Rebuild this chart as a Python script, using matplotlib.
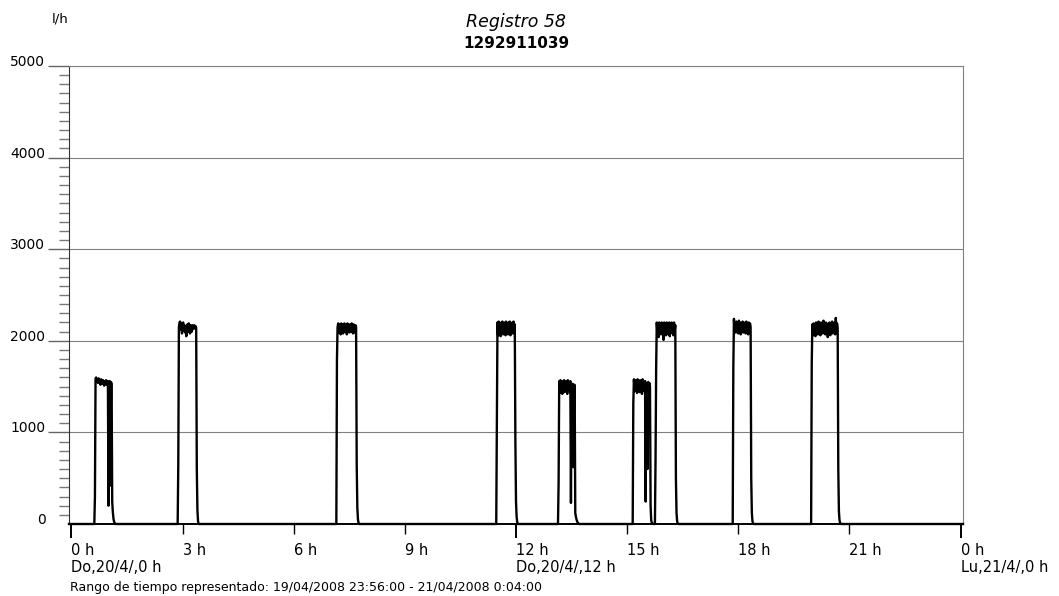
import numpy as np
import matplotlib.pyplot as plt
from matplotlib.ticker import MultipleLocator

plt.rcParams['font.family'] = 'DejaVu Sans'

# axis ticks
hour_ticks = [0, 3, 6, 9, 12, 15, 18, 21, 24]
hour_labels = ['0 h\nDo,20/4/,0 h', '3 h', '6 h', '9 h', '12 h\nDo,20/4/,12 h',
               '15 h', '18 h', '21 h', '0 h\nLu,21/4/,0 h']
day_ticks = [0, 12, 24]
flow_ticks = [0, 1000, 2000, 3000, 4000, 5000]

# minute samples, from 19/04 23:56 to 21/04 0:04
t_first, t_last = -4, 1444

# caudal (l/h) per minute for each pump cycle, zero in between
pulse_starts = [38, 173, 430, 689, 789, 910, 946, 1072, 1199]
pulse_1 = [300, 1590, 1600, 1560, 1580, 1540, 1590, 1550, 1570, 1520, 1580,
           1560, 1530, 1570, 1550, 1510, 1560, 1540, 1570, 1520, 1550, 1560,
           200, 1540, 1560, 420, 1550, 1530, 240, 130, 60, 25, 10]
pulse_2 = [650, 2150, 2200, 2210, 2120, 2190, 2080, 2180, 2200, 2110, 2170,
           2090, 2160, 2050, 2170, 2180, 2100, 2190, 2160, 2080, 2170,
           2150, 2100, 2170, 2160, 2130, 2170, 2150, 2160, 2140,
           600, 150, 30]
pulse_3 = [1800, 2150, 2190, 2090, 2180, 2160, 2070, 2190, 2120, 2180, 2080,
           2170, 2190, 2100, 2180, 2150, 2070, 2190, 2130, 2180, 2090,
           2170, 2180, 2100, 2190, 2150, 2080, 2180, 2160, 2090, 2170,
           2150, 650, 180, 50, 10]
pulse_4 = [1200, 2200, 2060, 2210, 2100, 2190, 2050, 2200, 2120, 2210, 2070,
           2190, 2100, 2200, 2060, 2210, 2110, 2190, 2070, 2200, 2090,
           2210, 2060, 2190, 2110, 2200, 2080, 2210, 2100, 2180,
           900, 250, 80, 20]
pulse_5 = [450, 1560, 1430, 1570, 1480, 1550, 1420, 1560, 1500, 1570, 1440,
           1550, 1490, 1560, 1420, 1570, 1470, 1540, 1450, 1560,
           230, 1520, 1480, 1530, 620, 1500, 1520, 120, 80, 50, 30, 15, 5]
pulse_6 = [1320, 1580, 1450, 1570, 1500, 1560, 1430, 1580, 1480, 1550, 1440,
           1570, 1500, 1560, 1420, 1580, 1470, 1550, 1450, 1560,
           245, 1540, 1480, 600, 1550, 1470, 1540, 1500, 200, 40, 15, 5]
pulse_7 = [700, 1700, 2200, 2080, 2190, 2040, 2200, 2110, 2180, 2070, 2200,
           2090, 2190, 2010, 2200, 2100, 2180, 2060, 2200, 2120, 2190, 2070,
           2200, 2050, 2180, 2100, 2200, 2080, 2190, 2060, 2200, 2110, 2170,
           500, 120, 30, 5]
pulse_8 = [1700, 2240, 2100, 2200, 2090, 2210, 2130, 2190, 2080, 2220, 2110,
           2200, 2070, 2190, 2120, 2210, 2090, 2180, 2100, 2200, 2080,
           2210, 2130, 2190, 2070, 2200, 2110, 2190, 2150,
           500, 120, 30, 5]
pulse_9 = [1750, 2180, 2060, 2190, 2100, 2170, 2050, 2200, 2120, 2190, 2070,
           2210, 2100, 2180, 2060, 2200, 2130, 2190, 2080, 2220, 2110,
           2190, 2070, 2200, 2090, 2180, 2040, 2190, 2110, 2200, 2060,
           2180, 2100, 2210, 2080, 2190, 2120, 2200, 2070, 2250, 2100,
           2190, 2140, 600, 140, 40, 10]
pulses = [pulse_1, pulse_2, pulse_3, pulse_4, pulse_5, pulse_6, pulse_7, pulse_8, pulse_9]

minutes = np.arange(t_first, t_last + 1)
flow = np.zeros(len(minutes))
for start, vals in zip(pulse_starts, pulses):
    i = start - t_first
    flow[i:i + len(vals)] = vals

fig = plt.figure(figsize=(10.59, 5.96), dpi=100)
ax = fig.add_axes([69 / 1059, 1 - 524 / 596, 894 / 1059, 458 / 596])

ax.plot(minutes / 60, flow, color='black', lw=1.7, clip_on=False, zorder=3)

ax.set_xlim(t_first / 60, t_last / 60)
ax.set_ylim(0, 5000)

# y axis: long major ticks, minor every 100 l/h
ax.set_yticks(flow_ticks)
ax.yaxis.set_minor_locator(MultipleLocator(100))
ax.tick_params(axis='y', which='major', length=15, width=1, color='#666666',
               pad=2, labelsize=10)
ax.tick_params(axis='y', which='minor', length=7, width=1, color='#777777')
ax.yaxis.get_major_ticks()[0].tick1line.set_visible(False)
for lab in ax.get_yticklabels():
    lab.set_verticalalignment('baseline')
ax.grid(axis='y', which='major', color='#808080', lw=0.8)

# x axis: hours, day marks in black
ax.set_xticks(hour_ticks, hour_labels)
ax.tick_params(axis='x', direction='out', length=10, width=1.4, color='black',
               pad=3.5, labelsize=10.5)
for h, tick in zip(hour_ticks, ax.xaxis.get_major_ticks()):
    tick.label1.set_horizontalalignment('left')
    if h not in day_ticks:
        tick.tick1line.set_color('#808080')
        tick.tick1line.set_markersize(7)
        tick.tick1line.set_markeredgewidth(1)

for side in ['top', 'right']:
    ax.spines[side].set_color('#808080')
    ax.spines[side].set_linewidth(0.8)
ax.spines['left'].set_color('#333333')
ax.spines['bottom'].set_color('black')
ax.spines['bottom'].set_linewidth(1.4)

fig.text(516 / 1059, 1 - 27 / 596, 'Registro 58', ha='center', va='baseline',
         style='italic', fontsize=12.5)
fig.text(516 / 1059, 1 - 48 / 596, '1292911039', ha='center', va='baseline',
         fontweight='bold', fontsize=11)
fig.text(52 / 1059, 1 - 23 / 596, 'l/h', va='baseline', fontsize=9.5)
fig.text(70 / 1059, 1 - 591 / 596,
         'Rango de tiempo representado: 19/04/2008 23:56:00 - 21/04/2008 0:04:00',
         va='baseline', fontsize=9)

fig.savefig('out.png', dpi=100)
